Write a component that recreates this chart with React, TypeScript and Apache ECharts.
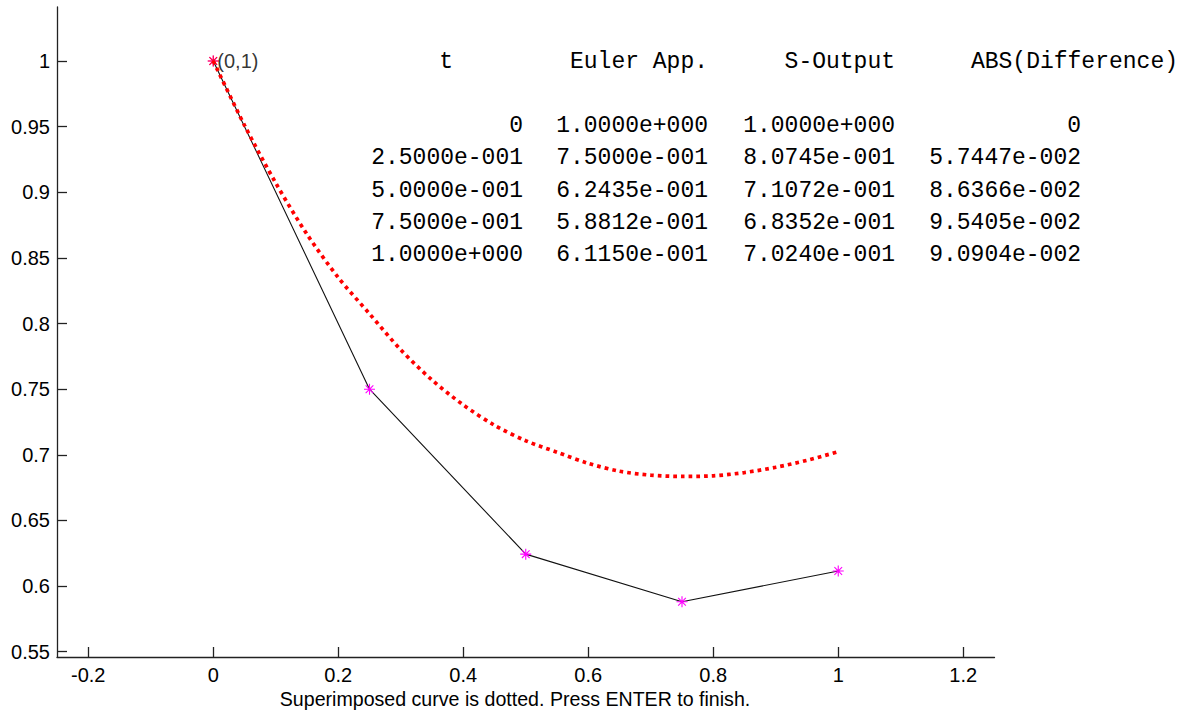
import { useEffect, useRef } from "react";
import * as echarts from "echarts";

// ---- data ----
const eulerT = [0, 0.25, 0.5, 0.75, 1];
const eulerY = [1, 0.75, 0.62435, 0.58812, 0.6115];
const exactNodeY = [1, 0.80745, 0.71072, 0.68352, 0.7024];
const absDiff = [0, 0.057447, 0.086366, 0.095405, 0.090904];

const curveT = [0, 0.05, 0.1, 0.15, 0.2, 0.25, 0.3, 0.35, 0.4, 0.45, 0.5, 0.55, 0.6, 0.65, 0.7, 0.75, 0.8, 0.85, 0.9, 0.95, 1];
const curveY = [1, 0.951, 0.907, 0.868, 0.835, 0.80745, 0.78, 0.757, 0.738, 0.7225, 0.71072, 0.702, 0.6935, 0.6875, 0.6845, 0.68352, 0.684, 0.6865, 0.6905, 0.6958, 0.7024];

const xTicks = [-0.2, 0, 0.2, 0.4, 0.6, 0.8, 1, 1.2];
const yTicks = [0.55, 0.6, 0.65, 0.7, 0.75, 0.8, 0.85, 0.9, 0.95, 1];

const tableHeaders = ["t", "Euler App.", "S-Output", "ABS(Difference)"];
const startLabel = "(0,1)";
const caption = "Superimposed curve is dotted. Press ENTER to finish.";

const ASTERISK = "path://M5,0L5,10M0,5L10,5M1.5,1.5L8.5,8.5M8.5,1.5L1.5,8.5";

function fmtE(v: number): string {
  if (v === 0) return "0";
  const [m, e] = v.toExponential(4).split("e");
  const n = parseInt(e, 10);
  return m + "e" + (n < 0 ? "-" : "+") + String(Math.abs(n)).padStart(3, "0");
}

export default function App() {
  const ref = useRef<HTMLDivElement>(null);

  useEffect(() => {
    if (!ref.current) return;
    const chart = echarts.init(ref.current, null, { renderer: "svg" });

    const mono = "'Liberation Mono', 'Courier New', monospace";
    const sans = "'Liberation Sans', Arial, sans-serif";

    const colRight = [523, 708, 895, 1081];
    const headerRight = [453, 708, 895, 1178];
    const headerY = 61.5;
    const rowStep = 32.3;

    const graphics: any[] = [];
    tableHeaders.forEach((h, i) => {
      graphics.push({
        type: "text",
        x: headerRight[i],
        y: headerY,
        style: { text: h, font: `23px ${mono}`, fill: "#000", align: "right", verticalAlign: "middle" },
      });
    });
    eulerT.forEach((t, r) => {
      const cells = [fmtE(t), fmtE(eulerY[r]), fmtE(exactNodeY[r]), fmtE(absDiff[r])];
      cells.forEach((c, i) => {
        graphics.push({
          type: "text",
          x: colRight[i],
          y: headerY + rowStep * (r + 2),
          style: { text: c, font: `23px ${mono}`, fill: "#000", align: "right", verticalAlign: "middle" },
        });
      });
    });
    graphics.push({
      type: "text",
      x: 515,
      y: 699,
      style: { text: caption, font: `19.6px ${sans}`, fill: "#000", align: "center", verticalAlign: "middle" },
    });

    chart.setOption({
      animation: false,
      backgroundColor: "#fff",
      grid: { left: 57, right: 196.5, top: 7, bottom: 60, containLabel: false },
      xAxis: {
        type: "value",
        min: -0.25,
        max: 1.25,
        axisLine: { show: true, onZero: false, lineStyle: { color: "#222", width: 1.3 } },
        axisTick: { show: true, inside: true, length: 10, customValues: xTicks, lineStyle: { color: "#222", width: 1.3 } },
        axisLabel: { customValues: xTicks, margin: 8, color: "#000", fontSize: 20, fontFamily: sans },
        splitLine: { show: false },
      },
      yAxis: {
        type: "value",
        min: 0.546,
        max: 1.0411,
        axisLine: { show: true, onZero: false, lineStyle: { color: "#222", width: 1.3 } },
        axisTick: { show: true, inside: true, length: 10, customValues: yTicks, lineStyle: { color: "#222", width: 1.3 } },
        axisLabel: { customValues: yTicks, margin: 7, color: "#000", fontSize: 20, fontFamily: sans },
        splitLine: { show: false },
      },
      series: [
        {
          type: "line",
          data: eulerT.map((t, i) => [t, eulerY[i]]),
          lineStyle: { color: "#111", width: 1.1 },
          symbol: ASTERISK,
          symbolSize: 11,
          showSymbol: true,
          itemStyle: { color: "rgba(0,0,0,0)", borderColor: "#ff00ff", borderWidth: 1.1 },
          z: 2,
        },
        {
          type: "line",
          data: curveT.map((t, i) => [t, curveY[i]]),
          smooth: 0.3,
          symbol: "none",
          lineStyle: { color: "#ff0000", width: 3.7, type: [3.7, 4], cap: "butt" },
          z: 3,
        },
        {
          type: "scatter",
          data: [[curveT[0], curveY[0]]],
          symbol: ASTERISK,
          symbolSize: 11,
          itemStyle: { color: "rgba(0,0,0,0)", borderColor: "#ff0000", borderWidth: 1.1 },
          label: {
            show: true,
            position: "right",
            distance: -2,
            formatter: startLabel,
            color: "#000",
            fontSize: 20,
            fontFamily: sans,
          },
          z: 4,
        },
      ],
      graphic: graphics,
    });

    return () => chart.dispose();
  }, []);

  return <div ref={ref} style={{ position: "fixed", left: 0, top: 0, width: 1191, height: 717 }} />;
}
